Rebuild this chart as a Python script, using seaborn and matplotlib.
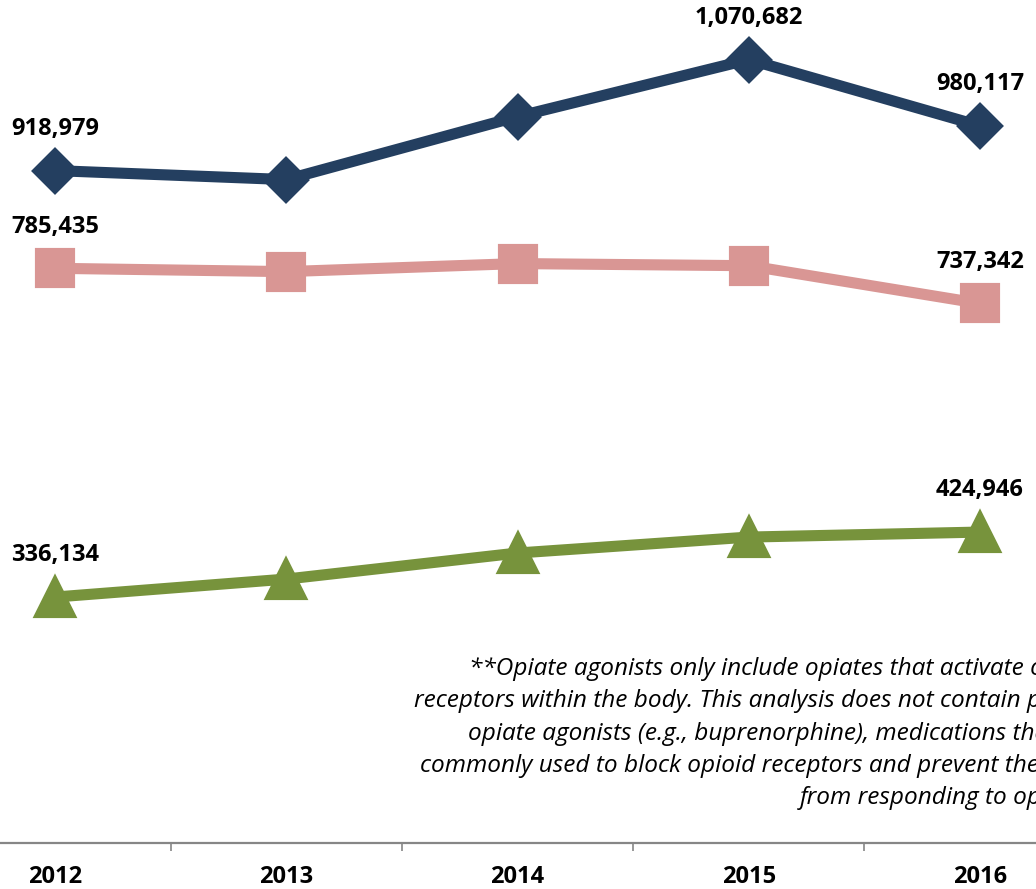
import matplotlib
matplotlib.use("Agg")
import matplotlib.pyplot as plt
import seaborn as sns

# Annual counts by category, 2012-2016
years = ["2012", "2013", "2014", "2015", "2016"]
total_opiates = [918979, 906700, 992800, 1070682, 980117]
opiate_agonists = [785435, 780900, 791900, 789000, 737342]
other_series = [336134, 360700, 396300, 418100, 424946]

# Which points carry a value label
total_labeled = [0, 3, 4]
agonist_labeled = [0, 4]
other_labeled = [0, 4]

note = ("**Opiate agonists only include opiates that activate opioid\n"
        "receptors within the body. This analysis does not contain partial\n"
        "opiate agonists (e.g., buprenorphine), medications that are\n"
        "commonly used to block opioid receptors and prevent the body\n"
        "from responding to opiates.")

sns.set_theme(style="white")
plt.rcParams["font.family"] = ["Open Sans", "DejaVu Sans"]

W, H = 1036, 889
fig = plt.figure(figsize=(W / 100, H / 100), dpi=100)
# The plotting area runs past the left and top edges of the canvas
ax_left_px, ax_right_px = -60.6, 1095.6
ax_bottom_px = 843
ymax = 1_200_000
ax_height_px = ymax / 1366.7
ax = fig.add_axes([ax_left_px / W, (H - ax_bottom_px) / H,
                   (ax_right_px - ax_left_px) / W, ax_height_px / H])

blue = "#243F60"
pink = "#D99694"
green = "#77933C"

series = [
    (total_opiates, blue, "D", 21, total_labeled),
    (opiate_agonists, pink, "s", 26, agonist_labeled),
    (other_series, green, "^", 27, other_labeled),
]

for values, color, marker, msize, labeled in series:
    sns.lineplot(x=years, y=values, ax=ax, color=color, linewidth=8,
                 marker=marker, markersize=msize, markeredgewidth=3,
                 markeredgecolor=color, markerfacecolor=color,
                 solid_joinstyle="round", sort=False, legend=False)
    for i in labeled:
        ax.annotate(f"{values[i]:,}", xy=(years[i], values[i]),
                    xytext=(0, 30), textcoords="offset points",
                    ha="center", va="center", fontsize=17,
                    fontweight="bold", color="black")

ax.set_xlim(-0.5, len(years) - 0.5)
ax.set_ylim(0, ymax)
ax.set_yticks([])
ax.set_xlabel("")
ax.set_ylabel("")

for side in ["left", "top", "right"]:
    ax.spines[side].set_visible(False)
ax.spines["bottom"].set_color("#868686")
ax.spines["bottom"].set_linewidth(1.6)

# Category labels in the middle, tick marks on the boundaries
ax.set_xticks(range(len(years)))
ax.set_xticklabels(years, fontsize=17, fontweight="bold", color="black")
ax.tick_params(axis="x", which="major", length=0, pad=16)
ax.set_xticks([i + 0.5 for i in range(len(years) - 1)], minor=True)
ax.tick_params(axis="x", which="minor", bottom=True, length=6,
               width=1.2, color="#868686", direction="out")

fig.text(1098 / W, 1 - 657 / H, note, ha="right", va="top",
         multialignment="right", fontsize=17.6, fontstyle="italic",
         color="black", linespacing=1.46)

fig.savefig("out.png", dpi=100)
